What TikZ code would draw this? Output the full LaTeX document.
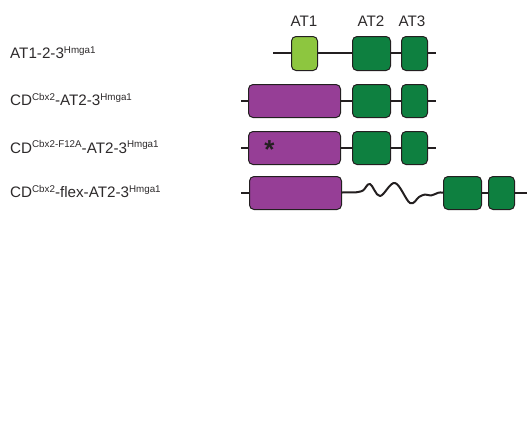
\documentclass[tikz,border=0pt]{standalone}
\usepackage{fontspec}
\setmainfont{Liberation Sans}
\definecolor{ltgreen}{RGB}{141,198,63}
\definecolor{dkgreen}{RGB}{14,128,64}
\definecolor{cdpurple}{RGB}{150,62,150}
\definecolor{inkline}{RGB}{35,31,32}
\definecolor{inktext}{RGB}{45,42,43}
\newcommand{\supx}[1]{\raisebox{5.5pt}{\fontsize{9.8}{10}\selectfont #1}}
\begin{document}
\begin{tikzpicture}[x=1pt,y=-1pt,
  dom/.style={draw=inkline, line width=1pt, rounded corners=4.5pt, inner sep=0pt, anchor=north west},
  at1box/.style={dom, fill=ltgreen},
  atbox/.style={dom, fill=dkgreen},
  cdbox/.style={dom, fill=cdpurple},
  backbone/.style={draw=inkline, line width=2pt},
  rowlabel/.style={anchor=base west, inner sep=0pt, text=inktext, font=\fontsize{15.2}{17}\selectfont},
  toplabel/.style={anchor=base, inner sep=0pt, text=inktext, font=\fontsize{15.2}{17}\selectfont}]
\useasboundingbox (0,0) rectangle (527,445);

% labels on top
\node[toplabel] (l1) at (304,26.5) {AT1};
\node[toplabel] (l2) at (371,26.5) {AT2};
\node[toplabel] (l3) at (412,26.5) {AT3};

% row labels
\node[rowlabel] (t1) at (10,58.5) {AT1-2-3\supx{Hmga1}};
\node[rowlabel] (t2) at (10,105.5) {CD\supx{Cbx2}-AT2-3\supx{Hmga1}};
\node[rowlabel] (t3) at (10,153) {CD\supx{Cbx2-F12A}-AT2-3\supx{Hmga1}};
\node[rowlabel] (t4) at (10,197.5) {CD\supx{Cbx2}-flex-AT2-3\supx{Hmga1}};

% row 1
\coordinate (s1) at (273,53);
\coordinate (e1) at (436,53);
\draw[backbone] (s1) -- (e1);
\node[at1box, minimum width=26pt, minimum height=34pt] (a1) at (291,36) {};
\node[atbox, minimum width=38pt, minimum height=34pt] (a2) at (352,36) {};
\node[atbox, minimum width=26pt, minimum height=34pt] (a3) at (401,36) {};

% row 2
\coordinate (s2) at (241,100.5);
\coordinate (e2) at (436,100.5);
\draw[backbone] (s2) -- (e2);
\node[cdbox, minimum width=92pt, minimum height=33pt] (c2) at (248,84) {};
\node[atbox, minimum width=38pt, minimum height=33pt] (b2) at (352,84) {};
\node[atbox, minimum width=26pt, minimum height=33pt] (d2) at (401,84) {};

% row 3
\coordinate (s3) at (241,147.5);
\coordinate (e3) at (436,147.5);
\draw[backbone] (s3) -- (e3);
\node[cdbox, minimum width=92pt, minimum height=33pt] (c3) at (248,131) {};
\node[atbox, minimum width=38pt, minimum height=33pt] (b3) at (352,131) {};
\node[atbox, minimum width=26pt, minimum height=33pt] (d3) at (401,131) {};
\node[inner sep=0pt, anchor=base, font=\fontsize{26}{26}\selectfont\bfseries, text=inkline] (star) at (269.5,158.5) {*};

% row 4
\coordinate (s4) at (241,192.5);
\coordinate (e4) at (527,192.5);
\draw[backbone] (s4) -- (249,192.5);
\node[cdbox, minimum width=92pt, minimum height=33pt] (c4) at (249,176) {};
\draw[inkline, line width=2pt, line join=round] (c4.east |- s4) -- (356,192.3)
  plot[smooth, tension=0.6] coordinates {(356,192.3) (363,190.5) (370,184) (380,196) (395,183) (410,203) (419,197) (425,194.5) (431,195.5) (438,192.8) (441,192.5)}
  -- (447,192.5);
\draw[backbone] (447,192.5) -- (e4);
\node[atbox, minimum width=38pt, minimum height=33pt] (b4) at (443,176) {};
\node[atbox, minimum width=26pt, minimum height=33pt] (d4) at (488,176) {};
\end{tikzpicture}
\end{document}
